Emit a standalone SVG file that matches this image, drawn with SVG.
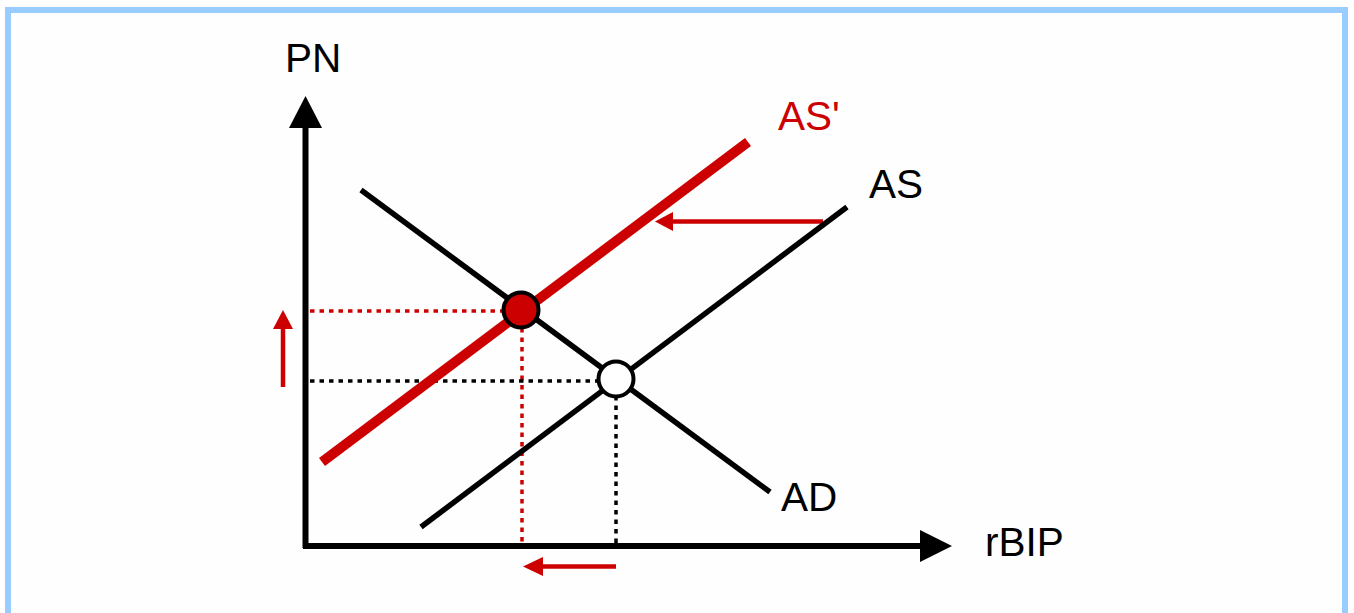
<svg xmlns="http://www.w3.org/2000/svg" width="1354" height="613" viewBox="0 0 1354 613">
<style>
.lbl{font-family:"Liberation Sans",Arial,sans-serif;font-size:40.5px;fill:#000}
.red{fill:#cc0000}
.dot{stroke-width:3.5;stroke-dasharray:4.5 5;fill:none}
</style>
<rect x="0" y="0" width="1354" height="613" fill="#fefefe"/>
<rect x="8" y="10" width="1337" height="640" fill="#fefefe" stroke="#99ccff" stroke-width="6"/>
<g id="axes">
<line x1="305.5" y1="548" x2="305.5" y2="126" stroke="#000" stroke-width="6"/>
<polygon points="289,128 322,128 305.5,96" fill="#000"/>
<line x1="303" y1="546" x2="922" y2="546" stroke="#000" stroke-width="6"/>
<polygon points="920,530 920,562 952,546" fill="#000"/>
<text class="lbl" x="285" y="72">PN</text>
<text class="lbl" x="985" y="556">rBIP</text>
</g>
<g id="connectors">
<line class="dot" x1="310" y1="311" x2="505" y2="311" stroke="#cc0000"/>
<line class="dot" x1="522" y1="328" x2="522" y2="545" stroke="#cc0000"/>
<line class="dot" x1="310" y1="381" x2="600" y2="381" stroke="#000"/>
<line class="dot" x1="616" y1="396" x2="616" y2="545" stroke="#000"/>
<line x1="283" y1="387" x2="283" y2="326" stroke="#cc0000" stroke-width="4.5"/>
<polygon points="273,329 293,329 283,310" fill="#cc0000"/>
<line x1="616" y1="566.5" x2="540" y2="566.5" stroke="#cc0000" stroke-width="4.5"/>
<polygon points="543,557 543,576 523,566.5" fill="#cc0000"/>
<line x1="823" y1="221.5" x2="670" y2="221.5" stroke="#cc0000" stroke-width="4.5"/>
<polygon points="673,212 673,231 655,221.5" fill="#cc0000"/>
</g>
<g id="AD">
<line x1="361" y1="190" x2="770" y2="492" stroke="#000" stroke-width="5.5"/>
<text class="lbl" x="781" y="511">AD</text>
</g>
<g id="AS">
<line x1="421" y1="527" x2="847" y2="207" stroke="#000" stroke-width="5.5"/>
<text class="lbl" x="869" y="198">AS</text>
</g>
<g id="AS-prime">
<line x1="322" y1="462" x2="748" y2="142" stroke="#cc0000" stroke-width="10"/>
<text class="lbl red" x="778" y="130">AS'</text>
</g>
<g id="eq-new">
<circle cx="521" cy="310" r="17.5" fill="#cc0000" stroke="#000" stroke-width="4"/>
</g>
<g id="eq-old">
<circle cx="616" cy="379" r="17.5" fill="#fff" stroke="#000" stroke-width="4"/>
</g>
</svg>
